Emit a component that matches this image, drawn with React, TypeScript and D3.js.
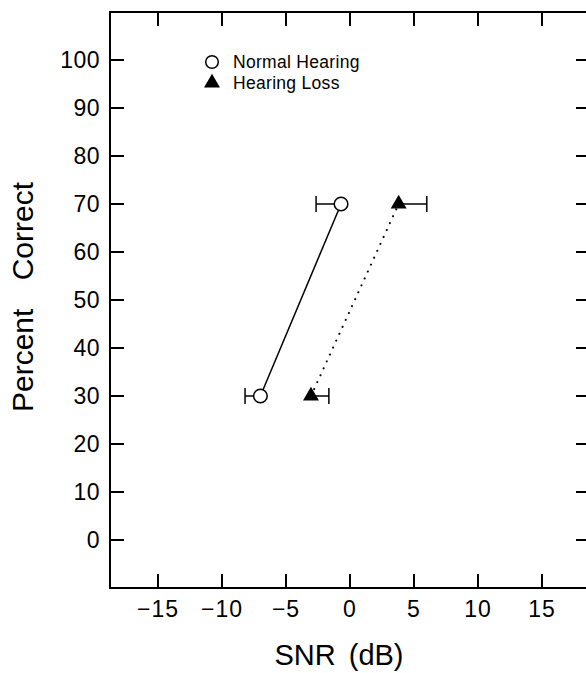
import React from 'react'
import * as d3 from 'd3'

// SNR (dB) at which each group reaches the target percent correct
const percentLevels = [30, 70]
const normalSnr = [-7.0, -0.7]
const normalErr = [1.2, 1.95] // drawn to the left
const lossSnr = [-3.05, 3.8]
const lossErr = [1.4, 2.2] // drawn to the right

const xTicks = [-15, -10, -5, 0, 5, 10, 15]
const yTicks = [0, 10, 20, 30, 40, 50, 60, 70, 80, 90, 100]

const width = 586
const height = 673
const left = 110, right = 590, top = 12, bottom = 588
const tickLen = 14
const font = '"Liberation Sans", Arial, sans-serif'

const x = d3.scaleLinear().domain([-18.75, 18.75]).range([left, right])
const y = d3.scaleLinear().domain([-10, 110]).range([bottom, top])

const fmt = (v: number) => (v < 0 ? '\u2212' + Math.abs(v) : String(v))

const line = d3.line<[number, number]>()
  .x(d => x(d[0]))
  .y(d => y(d[1]))

const tri = d3.symbol().type(d3.symbolTriangle).size(110)

export default function App() {
  const normalPts = percentLevels.map((p, i) => [normalSnr[i], p] as [number, number])
  const lossPts = percentLevels.map((p, i) => [lossSnr[i], p] as [number, number])

  return (
    <svg width={width} height={height}
      style={{ position: 'absolute', left: 0, top: 0, background: '#fff' }}>
      <rect x={0} y={0} width={width} height={height} fill="#fff" />

      {/* frame */}
      <rect x={left} y={top} width={right - left} height={bottom - top}
        fill="none" stroke="#000" strokeWidth={2} />

      {/* x ticks top & bottom */}
      {xTicks.map(t => (
        <g key={'x' + t}>
          <line x1={x(t)} x2={x(t)} y1={bottom} y2={bottom - tickLen} stroke="#000" strokeWidth={2} />
          <line x1={x(t)} x2={x(t)} y1={top} y2={top + tickLen} stroke="#000" strokeWidth={2} />
          <text x={x(t)} y={617} textAnchor="middle" fontFamily={font} fontSize={23}
            letterSpacing={1}>{fmt(t)}</text>
        </g>
      ))}

      {/* y ticks left & right */}
      {yTicks.map(t => (
        <g key={'y' + t}>
          <line x1={left} x2={left + tickLen} y1={y(t)} y2={y(t)} stroke="#000" strokeWidth={2} />
          <line x1={right} x2={right - tickLen} y1={y(t)} y2={y(t)} stroke="#000" strokeWidth={2} />
          <text x={100} y={y(t)} dy="0.36em" textAnchor="end" fontFamily={font} fontSize={23}
            letterSpacing={0.5}>{t}</text>
        </g>
      ))}

      {/* axis titles */}
      <text x={339} y={665} textAnchor="middle" fontFamily={font} fontSize={29}
        wordSpacing={5}>SNR (dB)</text>
      <text transform={`translate(33,297) rotate(-90)`} textAnchor="middle"
        fontFamily={font} fontSize={30} wordSpacing={20}>Percent Correct</text>

      {/* connecting lines */}
      <path d={line(normalPts) || ''} fill="none" stroke="#000" strokeWidth={1.5} />
      <path d={line(lossPts) || ''} fill="none" stroke="#000" strokeWidth={2}
        strokeDasharray="0.1 7.5" strokeLinecap="round" />

      {/* error bars */}
      {normalPts.map((d, i) => (
        <g key={'ne' + i} stroke="#000" strokeWidth={1.5}>
          <line x1={x(d[0])} x2={x(d[0] - normalErr[i])} y1={y(d[1])} y2={y(d[1])} />
          <line x1={x(d[0] - normalErr[i])} x2={x(d[0] - normalErr[i])} y1={y(d[1]) - 8} y2={y(d[1]) + 8} />
        </g>
      ))}
      {lossPts.map((d, i) => (
        <g key={'le' + i} stroke="#000" strokeWidth={1.5}>
          <line x1={x(d[0])} x2={x(d[0] + lossErr[i])} y1={y(d[1])} y2={y(d[1])} />
          <line x1={x(d[0] + lossErr[i])} x2={x(d[0] + lossErr[i])} y1={y(d[1]) - 8} y2={y(d[1]) + 8} />
        </g>
      ))}

      {/* markers */}
      {normalPts.map((d, i) => (
        <circle key={'nc' + i} cx={x(d[0])} cy={y(d[1])} r={6.8} fill="#fff" stroke="#000" strokeWidth={1.5} />
      ))}
      {lossPts.map((d, i) => (
        <path key={'lt' + i} d={tri() || ''} transform={`translate(${x(d[0])},${y(d[1])})`} fill="#000" />
      ))}

      {/* legend */}
      <circle cx={212} cy={62} r={6.3} fill="#fff" stroke="#000" strokeWidth={1.5} />
      <text x={233} y={62} dy="0.36em" fontFamily={font} fontSize={17.5} letterSpacing={0.3}>Normal Hearing</text>
      <path d={tri() || ''} transform="translate(212,83)" fill="#000" />
      <text x={233} y={83} dy="0.36em" fontFamily={font} fontSize={17.5} letterSpacing={0.3}>Hearing Loss</text>
    </svg>
  )
}
